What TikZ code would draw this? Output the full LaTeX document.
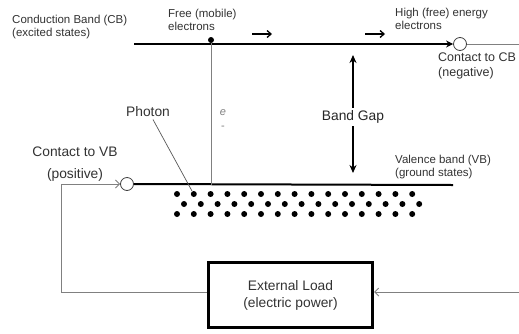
\documentclass[tikz,border=0pt]{standalone}
\usepackage{fontspec}
\setmainfont{Liberation Sans}
\usetikzlibrary{arrows.meta}
\definecolor{txt}{HTML}{333333}
\definecolor{wirec}{HTML}{808080}
\begin{document}
\begin{tikzpicture}[x=1pt,y=-1pt,
  lbl/.style={text=txt, font=\fontsize{11.5}{13}\selectfont, inner sep=0pt, align=left},
  big/.style={text=txt, font=\fontsize{13.8}{17}\selectfont, inner sep=0pt, align=center},
  band/.style={line width=2pt, black},
  wire/.style={line width=0.9pt, wirec},
  contact/.style={circle, draw=black!75, fill=white, line width=0.8pt, minimum size=13pt, inner sep=0pt},
  edot/.style={circle, fill=black, minimum size=6pt, inner sep=0pt},
  flow/.style={line width=1.3pt, black, -{Straight Barb[length=4pt,width=7pt]}},
]
\useasboundingbox (0,0) rectangle (519,333);
\fill[white] (0,0) rectangle (519,333);

% contacts
\node[contact] (cc) at (460,44) {};
\node[contact] (vc) at (127,184) {};

% conduction band
\coordinate (cbL) at (134,44);
\coordinate (cbR) at (519,44);
\draw[band, -{Stealth[length=7pt,width=7pt]}] (cbL) -- (cc.west);
\draw[wire] (cc.east) -- (cbR);

% valence band
\coordinate (vbR) at (453,185);
\draw[band] (vc.east) -- (vbR);

% free electron and excitation line
\node[edot] (fe) at (211,40) {};
\coordinate (feB) at (211,185);
\draw[wire] (fe) -- (feB);

% electron flow arrows
\coordinate (a1s) at (252,34); \coordinate (a1e) at (272,34);
\coordinate (a2s) at (365,34); \coordinate (a2e) at (385,34);
\draw[flow] (a1s) -- (a1e);
\draw[flow] (a2s) -- (a2e);

% band gap
\node[big, text=black!85, outer sep=3pt] (bg) at (353,117) {Band Gap};
\coordinate (bgT) at (353,55);
\coordinate (bgB) at (353,173);
\draw[line width=1.6pt, -{Stealth[length=8pt,width=7pt]}] (bg.north) -- (bgT);
\draw[line width=1.6pt, -{Stealth[length=8pt,width=7pt]}] (bg.south) -- (bgB);

% labels
\node[lbl, anchor=north west] (cbl) at (12,15) {Conduction Band (CB)\\(excited states)};
\node[lbl, anchor=north west] (fel) at (168,9) {Free (mobile)\\electrons};
\node[lbl, anchor=north west] (hel) at (395,8) {High (free) energy\\electrons};
\node[lbl, anchor=north west, font=\fontsize{12.5}{15}\selectfont] (ccl) at (438,53) {Contact to CB\\(negative)};
\node[lbl, anchor=north west] (vbl) at (395,155) {Valence band (VB)\\(ground states)};
\node[big, anchor=north, font=\fontsize{13.8}{22}\selectfont] (vcl) at (75,147) {Contact to VB\\(positive)};
\node[big, anchor=north] (ph) at (148,106) {Photon};
\node[text=wirec, font=\itshape\fontsize{11}{13}\selectfont, inner sep=0pt] (el) at (223,113) {e};
\node[text=wirec, font=\fontsize{11}{13}\selectfont, inner sep=0pt] (em) at (223,128) {-};

% photon pointer
\coordinate (phE) at (192,191);
\draw[line width=0.7pt, black!65] ([xshift=5pt,yshift=-3pt]ph.south) -- (phE);

% electrons in valence band
\foreach \i in {0,...,14} {
  \node[edot] (r1\i) at ({177+16.8*\i},194) {};
  \node[edot] (r2\i) at ({184+16.8*\i},204) {};
  \node[edot] (r3\i) at ({177+16.8*\i},214) {};
}

% external load
\node[draw=black, line width=3.2pt, minimum width=164pt, minimum height=65pt, big, font=\fontsize{13.8}{17}\selectfont] (load) at (290.5,295) {External Load\\(electric power)};

% circuit wires
\coordinate (wl) at (61,292);
\coordinate (wr) at (519,292);
\draw[wire, -{Straight Barb[length=4pt,width=8pt]}] (load.west |- wl) -- (wl) |- (vc.west);
\draw[wire, -{Straight Barb[length=4pt,width=8pt]}] (wr) -- (load.east |- wr);
\end{tikzpicture}
\end{document}
